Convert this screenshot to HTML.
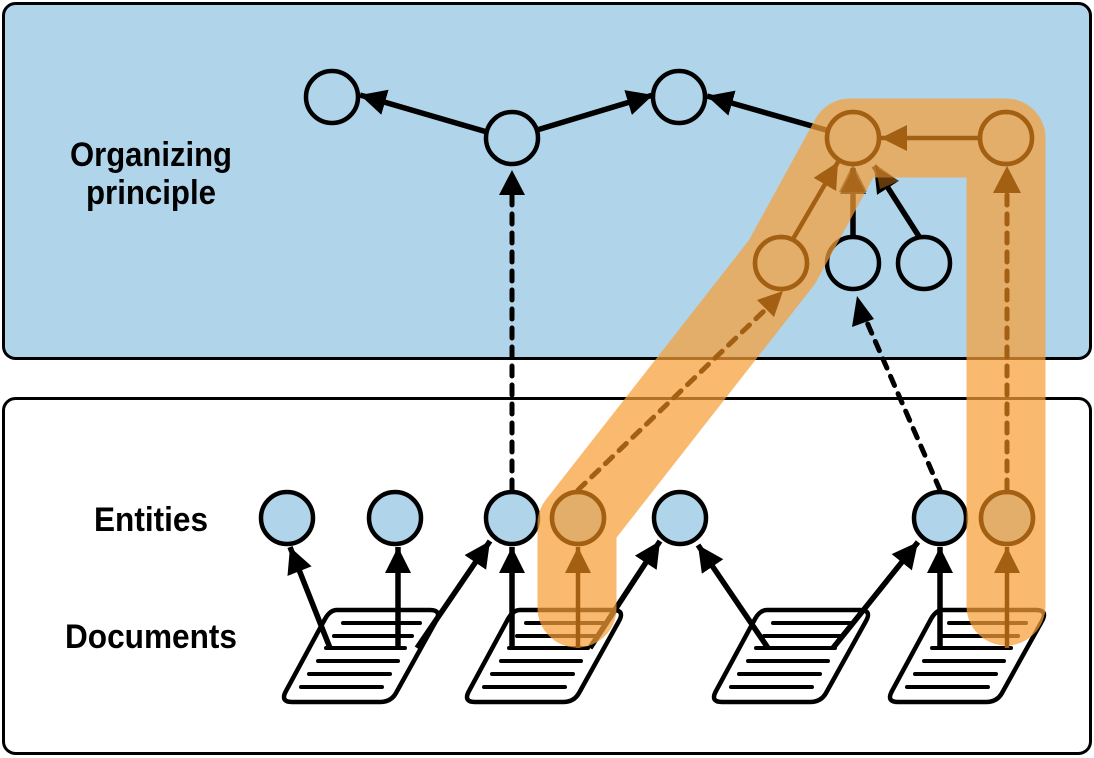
<!DOCTYPE html>
<html><head><meta charset="utf-8"><style>html,body{margin:0;padding:0;background:#fff}svg{display:block}</style></head>
<body>
<svg width="1094" height="758" viewBox="0 0 1094 758" xmlns="http://www.w3.org/2000/svg">
<defs>
<marker id="ab" markerUnits="userSpaceOnUse" markerWidth="30" markerHeight="30" refX="26" refY="13" orient="auto"><path d="M0,0 L26,13 L0,26 Z" fill="#000"/></marker>
<marker id="ao" markerUnits="userSpaceOnUse" markerWidth="30" markerHeight="30" refX="26" refY="13" orient="auto"><path d="M0,0 L26,13 L0,26 Z" fill="#a35f12"/></marker>
<g id="doc">
<path d="M337,610 L430,610 Q442,610 436,621 L396,693 Q391,702 380,702 L292,702 Q280,702 286,691 L325,619 Q330,610 337,610 Z" fill="#fff" stroke="#000" stroke-width="4.5" stroke-linejoin="round"/>
<g stroke="#000" stroke-width="4" stroke-linecap="round">
<line x1="343" y1="623" x2="420" y2="623"/><line x1="334" y1="636" x2="412" y2="636"/><line x1="326" y1="648" x2="405" y2="648"/><line x1="318" y1="661" x2="398" y2="661"/><line x1="309" y1="674" x2="390" y2="674"/><line x1="301" y1="687" x2="382" y2="687"/>
</g>
</g>
</defs>
<rect x="3.5" y="3.5" width="1087" height="355" rx="12" fill="#b0d4ea" stroke="#000" stroke-width="3"/>
<rect x="3.5" y="398.5" width="1087" height="355" rx="12" fill="#fff" stroke="#000" stroke-width="3"/>
<g font-family="Liberation Sans, sans-serif" font-size="34" font-weight="bold" fill="#000" text-anchor="middle">
<text x="151" y="166" textLength="162" lengthAdjust="spacingAndGlyphs">Organizing</text>
<text x="151" y="204" textLength="130" lengthAdjust="spacingAndGlyphs">principle</text>
<text x="151" y="531" textLength="114" lengthAdjust="spacingAndGlyphs">Entities</text>
<text x="151" y="648" textLength="172" lengthAdjust="spacingAndGlyphs">Documents</text>
</g>
<use href="#doc"/>
<use href="#doc" transform="translate(183,0)"/>
<use href="#doc" transform="translate(430,0)"/>
<use href="#doc" transform="translate(606,0)"/>
<g stroke="#000" stroke-width="5.5" fill="none">
<line x1="330" y1="648" x2="290" y2="547" marker-end="url(#ab)"/>
<line x1="398" y1="648" x2="398" y2="547" marker-end="url(#ab)"/>
<line x1="417" y1="648" x2="490" y2="541" marker-end="url(#ab)"/>
<line x1="512" y1="648" x2="512" y2="547" marker-end="url(#ab)"/>
<line x1="590" y1="648" x2="660" y2="541" marker-end="url(#ab)"/>
<line x1="768" y1="648" x2="698" y2="545" marker-end="url(#ab)"/>
<line x1="833" y1="648" x2="918" y2="542" marker-end="url(#ab)"/>
<line x1="940" y1="648" x2="940" y2="547" marker-end="url(#ab)"/>
<line x1="487" y1="132" x2="360" y2="95" marker-end="url(#ab)"/>
<line x1="537" y1="130" x2="653" y2="95" marker-end="url(#ab)"/>
<line x1="826" y1="130" x2="707" y2="96" marker-end="url(#ab)"/>
<line x1="853" y1="236" x2="853" y2="168" marker-end="url(#ab)"/>
<line x1="920" y1="238" x2="874" y2="166" marker-end="url(#ab)"/>
</g>
<g stroke="#000" stroke-width="5" fill="none" stroke-dasharray="10 9" stroke-linecap="round">
<line x1="512" y1="490" x2="512" y2="190"/>
<line x1="940" y1="490" x2="866" y2="320"/>
</g>
<path d="M512,170 L525,195 L499,195 Z" fill="#000"/>
<path d="M857,296 L874,319 L852,327 Z" fill="#000"/>
<g stroke="#000" stroke-width="4.5" fill="#b0d4ea">
<circle cx="332" cy="97" r="26"/><circle cx="512" cy="138" r="26"/><circle cx="679" cy="97" r="26"/>
<circle cx="853" cy="138" r="26"/><circle cx="1006" cy="138" r="26"/>
<circle cx="781" cy="263" r="26"/><circle cx="853" cy="263" r="26"/><circle cx="924" cy="263" r="26"/>
<circle cx="287" cy="518" r="26"/><circle cx="395" cy="518" r="26"/><circle cx="512" cy="518" r="26"/>
<circle cx="578" cy="518" r="26"/><circle cx="680" cy="518" r="26"/><circle cx="940" cy="518" r="26"/><circle cx="1007" cy="518" r="26"/>
</g>
<path d="M577,608 L577,524 L782,262 L850,138 L1006,138 L1006,606" fill="none" stroke="#f7a039" stroke-opacity="0.72" stroke-width="79" stroke-linejoin="round" stroke-linecap="round"/>
<g stroke="#a35f12" stroke-width="4.5" fill="none">
<circle cx="853" cy="138" r="26"/><circle cx="1006" cy="138" r="26"/><circle cx="781" cy="263" r="26"/><circle cx="578" cy="518" r="26"/><circle cx="1007" cy="518" r="26"/>
<line x1="578" y1="648" x2="578" y2="547" marker-end="url(#ao)"/>
<line x1="1007" y1="648" x2="1007" y2="547" marker-end="url(#ao)"/>
<line x1="979" y1="138" x2="881" y2="138" marker-end="url(#ao)"/>
<line x1="793" y1="239" x2="838" y2="162" marker-end="url(#ao)"/>
</g>
<g stroke="#a35f12" stroke-width="5" fill="none" stroke-dasharray="10 9" stroke-linecap="round">
<line x1="578" y1="490" x2="765" y2="310"/>
<line x1="1007" y1="490" x2="1007" y2="192"/>
</g>
<path d="M783,291 L774,317 L757,300 Z" fill="#a35f12"/>
<path d="M1007,166 L1021,193 L993,193 Z" fill="#a35f12"/>
<path d="M853,164 L867,192 L839,192 Z" fill="#a35f12" opacity="0.6"/>
<path d="M875,164 L899,181 L880,189 Z" fill="#a35f12" opacity="0.6"/>
</svg>
</body></html>
